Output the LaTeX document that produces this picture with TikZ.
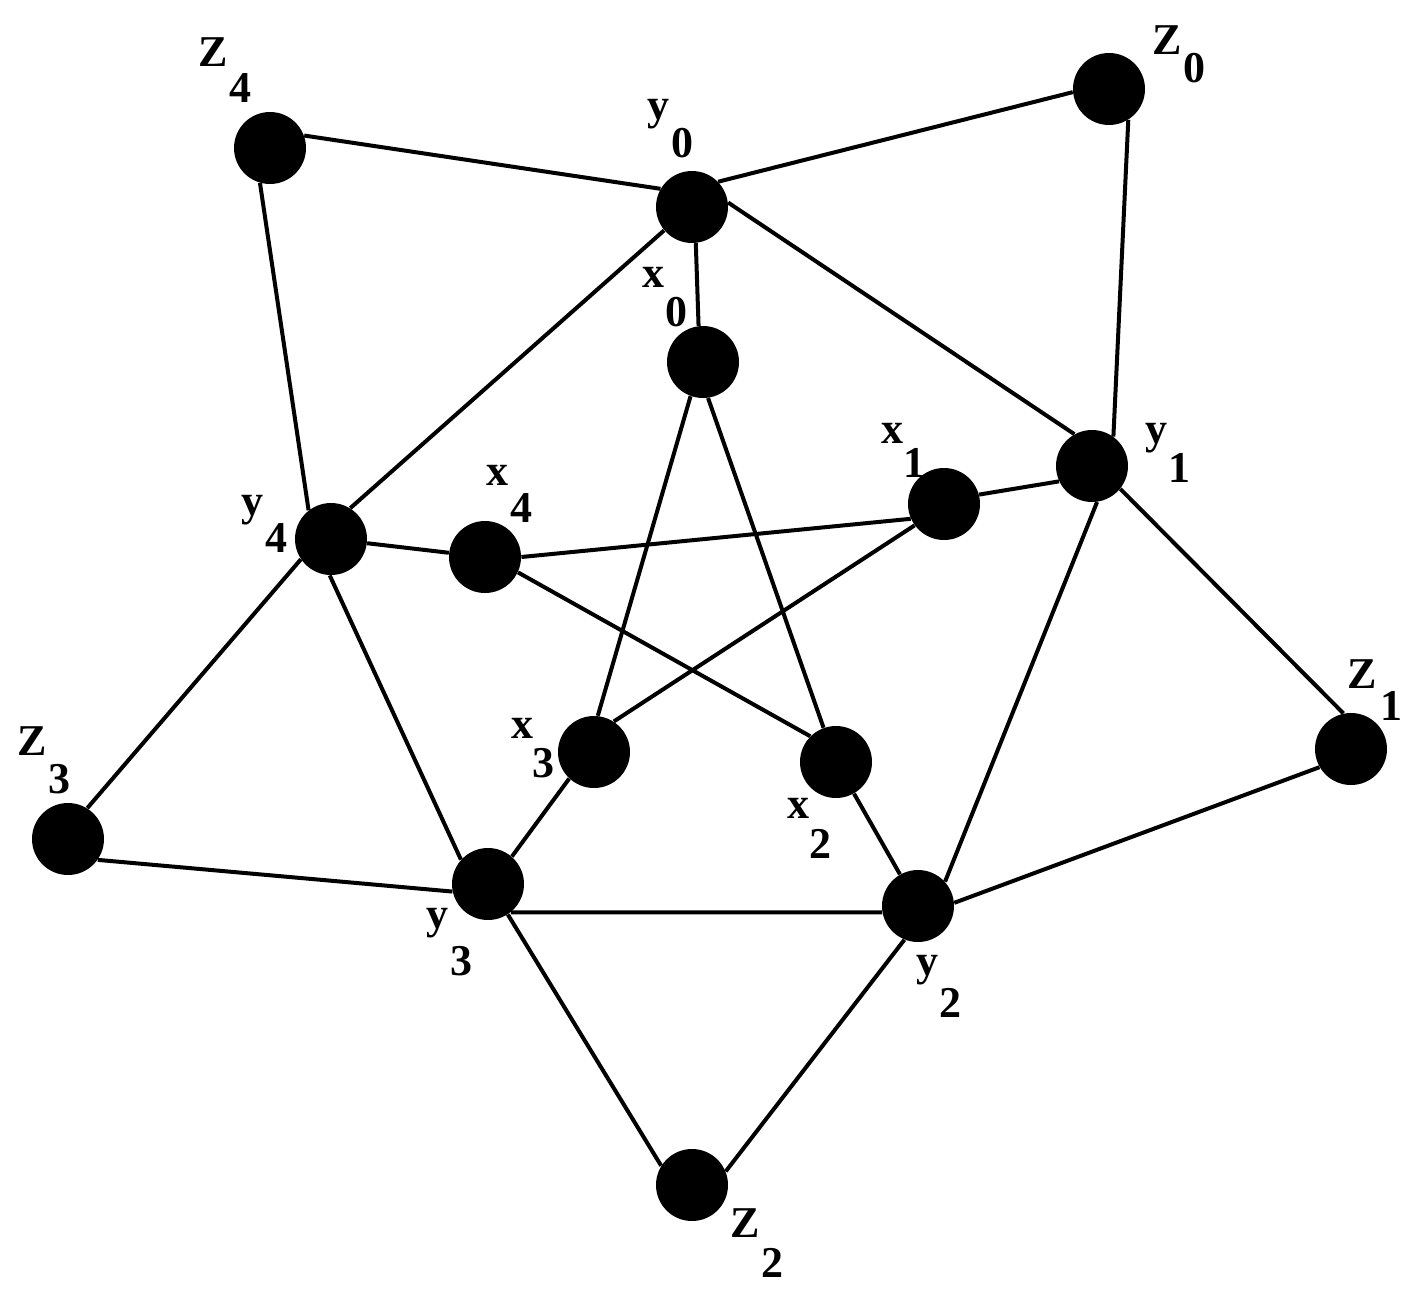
\documentclass[tikz,border=0pt]{standalone}
\usepackage{fontspec}
\setmainfont{Liberation Serif}
\begin{document}
\begin{tikzpicture}[x=0.5pt,y=-0.5pt,
  vtx/.style={circle,fill=black,draw=none,minimum size=36pt,inner sep=0pt},
  lab/.style={anchor=base,inner sep=0pt,font=\bfseries\fontsize{22}{22}\selectfont},
  edge/.style={line width=2pt}]
\useasboundingbox (0,0) rectangle (1426,1311);
% vertices
\node[vtx] (z4) at (270,148) {};
\node[vtx] (y0) at (692,207) {};
\node[vtx] (z0) at (1109,89) {};
\node[vtx] (x0) at (703,362) {};
\node[vtx] (y1) at (1092,466) {};
\node[vtx] (x1) at (944,504) {};
\node[vtx] (y4) at (331,539) {};
\node[vtx] (x4) at (485,557) {};
\node[vtx] (z1) at (1351,749) {};
\node[vtx] (x3) at (594,752) {};
\node[vtx] (x2) at (836,762) {};
\node[vtx] (z3) at (68,839) {};
\node[vtx] (y3) at (488,884) {};
\node[vtx] (y2) at (918,906) {};
\node[vtx] (z2) at (692,1185) {};
% edges
\draw[edge] (z4.20) -- (y0.150);
\draw[edge] (y0.44) -- (z0.185);
\draw[edge] (z0.-58) -- (y1.54);
\draw[edge] (z4.-106) -- (y4.128);
\draw[edge] (y0.220) -- (y4.58);
\draw[edge] (y0.-84) -- (x0.97);
\draw[edge] (y0.7) -- (y1.119);
\draw[edge] (x0.-110) -- (x3.84);
\draw[edge] (x0.-82) -- (x2.110);
\draw[edge] (x1.15) -- (y1.205);
\draw[edge] (x4.0) -- (x1.204);
\draw[edge] (y4) -- (x4);
\draw[edge] (x4.-25) -- (x2.135);
\draw[edge] (x1.216) -- (x3.57);
\draw[edge] (y1.-82) -- (y2.42);
\draw[edge] (y1.-39) -- (z1.102);
\draw[edge] (z1.210) -- (y2.5);
\draw[edge] (y4.214) -- (z3.58);
\draw[edge] (y4.-92) -- (y3.138);
\draw[edge] (z3.-35) -- (y3.192);
\draw[edge] (x3.227) -- (y3.49);
\draw[edge] (x2) -- (y2);
\draw[edge] (y3.-51) -- (y2.190);
\draw[edge] (y3.-57) -- (z2.148);
\draw[edge] (y2.-112) -- (z2.22);
% labels
\node[lab] (lz4a) at (213,67) {Z};  \node[lab] (lz4b) at (240,103) {4};
\node[lab] (ly0a) at (658,120) {y};  \node[lab] (ly0b) at (682,158) {0};
\node[lab] (lz0a) at (1167,55) {Z};  \node[lab] (lz0b) at (1194,83) {0};
\node[lab] (lx0a) at (653,287) {x};  \node[lab] (lx0b) at (676,327) {0};
\node[lab] (lx1a) at (892,443) {x};  \node[lab] (lx1b) at (914,477) {1};
\node[lab] (ly1a) at (1156,443) {y}; \node[lab] (ly1b) at (1179,482) {1};
\node[lab] (ly4a) at (252,515) {y};  \node[lab] (ly4b) at (276,552) {4};
\node[lab] (lx4a) at (497,485) {x};  \node[lab] (lx4b) at (521,522) {4};
\node[lab] (lz3a) at (32,755) {Z};   \node[lab] (lz3b) at (59,793) {3};
\node[lab] (ly3a) at (437,928) {y};  \node[lab] (ly3b) at (461,975) {3};
\node[lab] (lx3a) at (522,738) {x};  \node[lab] (lx3b) at (543,777) {3};
\node[lab] (lx2a) at (798,818) {x};  \node[lab] (lx2b) at (820,858) {2};
\node[lab] (ly2a) at (927,975) {y};  \node[lab] (ly2b) at (950,1017) {2};
\node[lab] (lz1a) at (1362,688) {Z}; \node[lab] (lz1b) at (1391,720) {1};
\node[lab] (lz2a) at (745,1237) {Z}; \node[lab] (lz2b) at (772,1277) {2};
\end{tikzpicture}
\end{document}
